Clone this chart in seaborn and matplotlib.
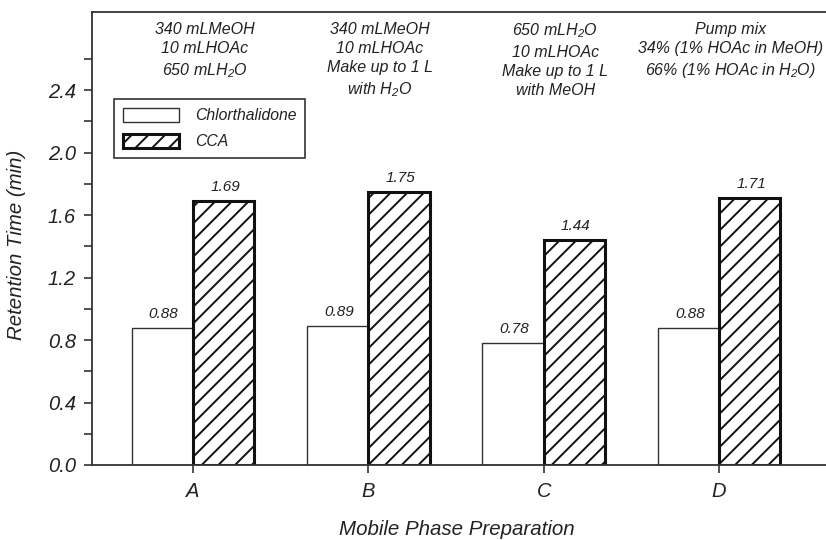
import matplotlib
matplotlib.use("Agg")
import matplotlib.pyplot as plt
import matplotlib.font_manager as fm
import seaborn as sns
import pandas as pd

# ---- data ----
preparations = ["A", "B", "C", "D"]
chlorthalidone = [0.88, 0.89, 0.78, 0.88]
cca = [1.69, 1.75, 1.44, 1.71]
series_names = ["Chlorthalidone", "CCA"]
conditions = [
    "340 mLMeOH\n10 mLHOAc\n650 mLH$_2$O",
    "340 mLMeOH\n10 mLHOAc\nMake up to 1 L\nwith H$_2$O",
    "650 mLH$_2$O\n10 mLHOAc\nMake up to 1 L\nwith MeOH",
    "Pump mix\n34% (1% HOAc in MeOH)\n66% (1% HOAc in H$_2$O)",
]
yticks_major = [0.0, 0.4, 0.8, 1.2, 1.6, 2.0, 2.4]
yticks_minor = [0.2, 0.6, 1.0, 1.4, 1.8, 2.2, 2.6]

df = pd.DataFrame({
    "prep": preparations * 2,
    "rt": chlorthalidone + cca,
    "compound": [series_names[0]] * 4 + [series_names[1]] * 4,
})

sns.set_theme(style="white")


def has_italic(fam):
    return any(f.name == fam and f.style in ("italic", "oblique")
               for f in fm.fontManager.ttflist)


cands = ["Liberation Sans", "Arimo", "Roboto", "Noto Sans",
         "Open Sans", "Lato", "Inter", "DejaVu Sans"]
FAM = next((c for c in cands if has_italic(c)), "DejaVu Sans")

plt.rcParams["font.family"] = [FAM, "DejaVu Sans"]
plt.rcParams["font.style"] = "italic"
plt.rcParams["mathtext.fontset"] = "custom"
plt.rcParams["mathtext.rm"] = FAM + ":italic"
plt.rcParams["mathtext.it"] = FAM + ":italic"
plt.rcParams["mathtext.default"] = "rm"
plt.rcParams["hatch.linewidth"] = 1.4
plt.rcParams["hatch.color"] = "#111111"

TXT = "#222222"

fig = plt.figure(figsize=(8.26, 5.40), dpi=100)
ax = fig.add_axes([92 / 826, 1 - 465 / 540, 1 - 92 / 826, (465 - 12) / 540])

sns.barplot(data=df, x="prep", y="rt", hue="compound", order=preparations,
            hue_order=series_names, palette=["white", "white"],
            edgecolor="#222222", linewidth=1.0, width=0.7, saturation=1,
            errorbar=None, legend=False, ax=ax)

for p in ax.containers[1]:
    p.set_hatch("//")
    p.set_edgecolor("#111111")
    p.set_linewidth(2.2)
for p in ax.containers[0]:
    p.set_edgecolor("#333333")
    p.set_linewidth(1.0)

ax.set_ylim(0, 2.9)
ax.set_xlim(-0.576, 3.61)

for cont, vals in zip(ax.containers, [chlorthalidone, cca]):
    for p, v in zip(cont, vals):
        ax.annotate(f"{v:.2f}", (p.get_x() + p.get_width() / 2, v),
                    xytext=(1, 5), textcoords="offset points",
                    ha="center", va="bottom", fontsize=11, color=TXT,
                    style="italic")

for i, txt in enumerate(conditions):
    ax.text(i + 0.065, 0.979, txt, transform=ax.get_xaxis_transform(),
            ha="center", va="top", fontsize=11.5, color=TXT, style="italic",
            linespacing=1.36)

for s in ["left", "top", "bottom"]:
    ax.spines[s].set_visible(True)
    ax.spines[s].set_color("#333333")
    ax.spines[s].set_linewidth(1.3)
ax.spines["right"].set_visible(False)

ax.set_yticks(yticks_major)
ax.set_yticks(yticks_minor, minor=True)
ax.set_yticklabels([f"{t:.1f}" for t in yticks_major])
ax.tick_params(axis="y", which="both", direction="out", length=6, width=1.2,
               color="#333333", left=True, labelsize=14.5, labelcolor=TXT, pad=5.5)
ax.tick_params(axis="x", which="major", direction="out", length=6, width=1.2,
               color="#333333", bottom=True, labelsize=14.5, labelcolor=TXT, pad=6)
for lab in ax.get_xticklabels() + ax.get_yticklabels():
    lab.set_style("italic")

ax.set_xlabel("Mobile Phase Preparation", fontsize=14.8, color=TXT, style="italic")
ax.set_ylabel("Retention Time (min)", fontsize=14.7, color=TXT, style="italic")
ax.xaxis.set_label_coords((457 - 92) / (826 - 92), -0.121)
ax.yaxis.set_label_coords(-0.09, 0.487)

leg = ax.legend(handles=[ax.containers[0][0], ax.containers[1][0]],
                labels=series_names, loc="upper left",
                bbox_to_anchor=(114 / 826, 1 - 99 / 540),
                bbox_transform=fig.transFigure, borderaxespad=0,
                fancybox=False, framealpha=1, edgecolor="#333333",
                handlelength=3.6, handleheight=1.0,
                handletextpad=1.0, labelspacing=0.7, borderpad=0.55,
                prop={"style": "italic", "size": 11.3})
leg.get_frame().set_linewidth(1.2)
for t in leg.get_texts():
    t.set_color(TXT)

fig.savefig("out.png", dpi=100)
